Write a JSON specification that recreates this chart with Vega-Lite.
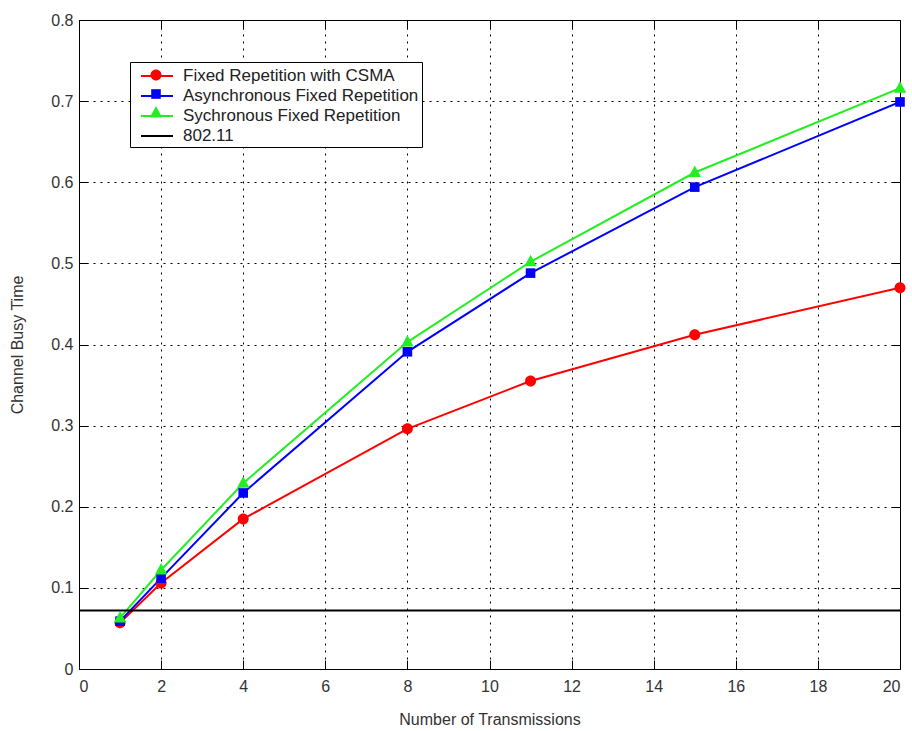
{
  "$schema": "https://vega.github.io/schema/vega-lite/v6.json",
  "width": 821,
  "height": 649,
  "autosize": {"type": "none"},
  "padding": {"left": 79, "top": 20, "right": 12, "bottom": 62},
  "background": "white",
  "config": {
    "view": {"stroke": "#000", "strokeWidth": 1},
    "font": "Liberation Sans",
    "axis": {
      "labelFont": "Liberation Sans",
      "labelFontSize": 16,
      "labelColor": "#333",
      "titleFont": "Liberation Sans",
      "titleFontSize": 16,
      "titleFontWeight": "normal",
      "titleColor": "#333",
      "tickColor": "#000",
      "tickSize": -9,
      "tickWidth": 1,
      "domain": false,
      "gridColor": "#000",
      "gridDash": [2, 5],
      "gridOpacity": 1,
      "gridWidth": 1
    }
  },
  "data": {
    "values": [
      {"series": "Fixed Repetition with CSMA", "x": 1, "y": 0.057},
      {"series": "Fixed Repetition with CSMA", "x": 2, "y": 0.106},
      {"series": "Fixed Repetition with CSMA", "x": 4, "y": 0.185},
      {"series": "Fixed Repetition with CSMA", "x": 8, "y": 0.296},
      {"series": "Fixed Repetition with CSMA", "x": 11, "y": 0.355},
      {"series": "Fixed Repetition with CSMA", "x": 15, "y": 0.412},
      {"series": "Fixed Repetition with CSMA", "x": 20, "y": 0.470},
      {"series": "Asynchronous Fixed Repetition", "x": 1, "y": 0.059},
      {"series": "Asynchronous Fixed Repetition", "x": 2, "y": 0.112},
      {"series": "Asynchronous Fixed Repetition", "x": 4, "y": 0.217},
      {"series": "Asynchronous Fixed Repetition", "x": 8, "y": 0.391},
      {"series": "Asynchronous Fixed Repetition", "x": 11, "y": 0.488},
      {"series": "Asynchronous Fixed Repetition", "x": 15, "y": 0.594},
      {"series": "Asynchronous Fixed Repetition", "x": 20, "y": 0.699},
      {"series": "Sychronous Fixed Repetition", "x": 1, "y": 0.063},
      {"series": "Sychronous Fixed Repetition", "x": 2, "y": 0.122},
      {"series": "Sychronous Fixed Repetition", "x": 4, "y": 0.229},
      {"series": "Sychronous Fixed Repetition", "x": 8, "y": 0.403},
      {"series": "Sychronous Fixed Repetition", "x": 11, "y": 0.502},
      {"series": "Sychronous Fixed Repetition", "x": 15, "y": 0.612},
      {"series": "Sychronous Fixed Repetition", "x": 20, "y": 0.716},
      {"series": "802.11", "x": 0, "y": 0.072},
      {"series": "802.11", "x": 20, "y": 0.072}
    ]
  },
  "layer": [
    {
      "mark": {"type": "line", "clip": true},
      "encoding": {
        "x": {
          "field": "x", "type": "quantitative",
          "scale": {"domain": [0, 20], "nice": false},
          "axis": {"orient": "bottom", "values": [0,2,4,6,8,10,12,14,16,18,20], "grid": true, "labelPadding": 18, "title": "Number of Transmissions", "titlePadding": 17}
        },
        "y": {
          "field": "y", "type": "quantitative",
          "scale": {"domain": [0, 0.8], "nice": false, "zero": true},
          "axis": {"orient": "left", "values": [0,0.1,0.2,0.3,0.4,0.5,0.6,0.7,0.8], "format": ".1~f", "grid": true, "labelPadding": 15, "title": "Channel Busy Time", "titlePadding": 25}
        },
        "stroke": {
          "field": "series", "type": "nominal",
          "scale": {
            "domain": ["Fixed Repetition with CSMA", "Asynchronous Fixed Repetition", "Sychronous Fixed Repetition", "802.11"],
            "range": ["#ff0000", "#0000ff", "#22ee22", "#000000"]
          },
          "legend": {
            "orient": "none", "legendX": 51, "legendY": 42, "title": null,
            "symbolType": "M-1.6,0H1.6", "symbolSize": 400, "symbolStrokeWidth": 2.5,
            "symbolOffset": 13, "labelOffset": 15, "labelFontSize": 17, "labelFont": "Liberation Sans",
            "labelColor": "#222", "labelLimit": 400, "padding": 3, "rowPadding": 1,
            "strokeColor": "#000", "fillColor": "#fff", "cornerRadius": 0
          }
        },
        "strokeWidth": {
          "field": "series", "type": "nominal",
          "scale": {
            "domain": ["Fixed Repetition with CSMA", "Asynchronous Fixed Repetition", "Sychronous Fixed Repetition", "802.11"],
            "range": [2, 2, 2, 3]
          },
          "legend": null
        }
      }
    },
    {
      "transform": [{"filter": "datum.series !== '802.11'"}],
      "mark": {"type": "point", "filled": true, "size": 400, "opacity": 1, "strokeWidth": 0},
      "encoding": {
        "x": {
          "field": "x", "type": "quantitative",
          "scale": {"domain": [0, 20], "nice": false},
          "axis": {"orient": "top", "values": [0,2,4,6,8,10,12,14,16,18,20], "grid": false, "labels": false, "title": null}
        },
        "y": {
          "field": "y", "type": "quantitative",
          "scale": {"domain": [0, 0.8], "nice": false},
          "axis": {"orient": "right", "values": [0,0.1,0.2,0.3,0.4,0.5,0.6,0.7,0.8], "grid": false, "labels": false, "title": null}
        },
        "fill": {
          "field": "series", "type": "nominal",
          "scale": {
            "domain": ["Fixed Repetition with CSMA", "Asynchronous Fixed Repetition", "Sychronous Fixed Repetition"],
            "range": ["#ff0000", "#0000ff", "#22ee22"]
          },
          "legend": {
            "orient": "none", "legendX": 51, "legendY": 42, "title": null,
            "symbolSize": 400, "symbolStrokeWidth": 0, "symbolOffset": 13, "labelOffset": 15,
            "labelFontSize": 17, "labelFont": "Liberation Sans", "labelExpr": "''", "labelLimit": 400,
            "padding": 3, "rowPadding": 1
          }
        },
        "shape": {
          "field": "series", "type": "nominal",
          "scale": {
            "domain": ["Fixed Repetition with CSMA", "Asynchronous Fixed Repetition", "Sychronous Fixed Repetition"],
            "range": [
              "M0.55,0A0.55,0.55 0 1,1 -0.55,0A0.55,0.55 0 1,1 0.55,0Z",
              "M-0.48,-0.48H0.48V0.48H-0.48Z",
              "M0,-0.7L0.62,0.45L-0.62,0.45Z"
            ]
          },
          "legend": {
            "orient": "none", "legendX": 51, "legendY": 42, "title": null,
            "symbolSize": 400, "symbolStrokeWidth": 0, "symbolOffset": 13, "labelOffset": 15,
            "labelFontSize": 17, "labelFont": "Liberation Sans", "labelExpr": "''", "labelLimit": 400,
            "padding": 3, "rowPadding": 1
          }
        }
      }
    }
  ],
  "resolve": {"axis": {"x": "independent", "y": "independent"}}
}
